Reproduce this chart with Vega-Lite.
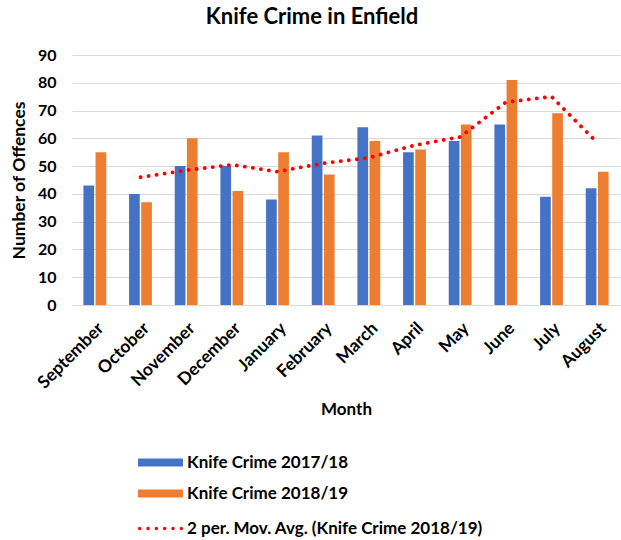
{
  "$schema": "https://vega.github.io/schema/vega-lite/v6.json",
  "width": 548,
  "height": 250,
  "autosize": {"type": "none"},
  "padding": {"left": 72, "top": 55, "right": 1, "bottom": 235},
  "background": "white",
  "title": {"text": "Knife Crime in Enfield", "fontSize": 22, "font": "Lato", "fontWeight": "bold", "color": "#000000", "anchor": "middle", "dx": -34, "offset": 18},
  "config": {"view": {"stroke": null}, "font": "Lato"},
  "datasets": {
    "bars": [
      {"month": "September", "series": "Knife Crime 2017/18", "value": 43},
      {"month": "September", "series": "Knife Crime 2018/19", "value": 55},
      {"month": "October", "series": "Knife Crime 2017/18", "value": 40},
      {"month": "October", "series": "Knife Crime 2018/19", "value": 37},
      {"month": "November", "series": "Knife Crime 2017/18", "value": 50},
      {"month": "November", "series": "Knife Crime 2018/19", "value": 60},
      {"month": "December", "series": "Knife Crime 2017/18", "value": 50},
      {"month": "December", "series": "Knife Crime 2018/19", "value": 41},
      {"month": "January", "series": "Knife Crime 2017/18", "value": 38},
      {"month": "January", "series": "Knife Crime 2018/19", "value": 55},
      {"month": "February", "series": "Knife Crime 2017/18", "value": 61},
      {"month": "February", "series": "Knife Crime 2018/19", "value": 47},
      {"month": "March", "series": "Knife Crime 2017/18", "value": 64},
      {"month": "March", "series": "Knife Crime 2018/19", "value": 59},
      {"month": "April", "series": "Knife Crime 2017/18", "value": 55},
      {"month": "April", "series": "Knife Crime 2018/19", "value": 56},
      {"month": "May", "series": "Knife Crime 2017/18", "value": 59},
      {"month": "May", "series": "Knife Crime 2018/19", "value": 65},
      {"month": "June", "series": "Knife Crime 2017/18", "value": 65},
      {"month": "June", "series": "Knife Crime 2018/19", "value": 81},
      {"month": "July", "series": "Knife Crime 2017/18", "value": 39},
      {"month": "July", "series": "Knife Crime 2018/19", "value": 69},
      {"month": "August", "series": "Knife Crime 2017/18", "value": 42},
      {"month": "August", "series": "Knife Crime 2018/19", "value": 48}
    ],
    "ma": [
      {"month": "October", "series": "2 per. Mov. Avg. (Knife Crime 2018/19)", "value": 46},
      {"month": "November", "series": "2 per. Mov. Avg. (Knife Crime 2018/19)", "value": 48.5},
      {"month": "December", "series": "2 per. Mov. Avg. (Knife Crime 2018/19)", "value": 50.5},
      {"month": "January", "series": "2 per. Mov. Avg. (Knife Crime 2018/19)", "value": 48},
      {"month": "February", "series": "2 per. Mov. Avg. (Knife Crime 2018/19)", "value": 51},
      {"month": "March", "series": "2 per. Mov. Avg. (Knife Crime 2018/19)", "value": 53},
      {"month": "April", "series": "2 per. Mov. Avg. (Knife Crime 2018/19)", "value": 57.5},
      {"month": "May", "series": "2 per. Mov. Avg. (Knife Crime 2018/19)", "value": 60.5},
      {"month": "June", "series": "2 per. Mov. Avg. (Knife Crime 2018/19)", "value": 73},
      {"month": "July", "series": "2 per. Mov. Avg. (Knife Crime 2018/19)", "value": 75},
      {"month": "August", "series": "2 per. Mov. Avg. (Knife Crime 2018/19)", "value": 58.5}
    ]
  },
  "encoding": {
    "x": {
      "field": "month", "type": "nominal",
      "sort": ["September","October","November","December","January","February","March","April","May","June","July","August"],
      "scale": {"paddingInner": 0.5, "paddingOuter": 0.25},
      "axis": {
        "title": "Month", "titleFontSize": 17, "titleFontWeight": "bold", "titleColor": "#000000", "titlePadding": 10,
        "labelAngle": -45, "labelFontSize": 17.5, "labelFontWeight": "bold", "labelColor": "#000000",
        "ticks": false, "domain": true, "domainColor": "#d9d9d9", "grid": false, "labelPadding": 14
      }
    },
    "y": {
      "field": "value", "type": "quantitative",
      "scale": {"domain": [0, 90]},
      "axis": {
        "title": "Number of Offences", "titleFontSize": 17.5, "titleFontWeight": "bold", "titleColor": "#000000", "titlePadding": 9,
        "values": [0,10,20,30,40,50,60,70,80,90], "labelOverlap": false,
        "labelFontSize": 16, "labelFontWeight": "bold", "labelColor": "#000000", "labelPadding": 16,
        "ticks": false, "domain": false, "grid": true, "gridColor": "#d9d9d9", "gridWidth": 1
      }
    }
  },
  "layer": [
    {
      "data": {"name": "bars"},
      "mark": {"type": "bar"},
      "encoding": {
        "xOffset": {"field": "series", "type": "nominal", "scale": {"paddingInner": 0.12}},
        "color": {
          "field": "series", "type": "nominal",
          "scale": {"range": ["#4472C4", "#ED7D31"]},
          "legend": {
            "title": null, "orient": "none", "legendX": 66, "legendY": 385, "direction": "vertical",
            "symbolType": "M-1,-0.18H1V0.18H-1Z", "symbolSize": 2025, "symbolStrokeWidth": 0,
            "labelFontSize": 17, "labelFontWeight": "bold", "labelColor": "#000000", "labelOffset": 4, "rowPadding": -13, "labelLimit": 400
          }
        }
      }
    },
    {
      "data": {"name": "ma"},
      "mark": {"type": "line", "strokeWidth": 3.8, "strokeDash": [0.1, 8], "strokeCap": "round"},
      "encoding": {
        "stroke": {
          "field": "series", "type": "nominal",
          "scale": {"range": ["#FF0000"]},
          "legend": {
            "title": null, "orient": "none", "legendX": 66, "legendY": 451,
            "symbolType": "M-1,0a0.075,0.075 0 1,0 0.15,0a0.075,0.075 0 1,0 -0.15,0M-0.63,0a0.075,0.075 0 1,0 0.15,0a0.075,0.075 0 1,0 -0.15,0M-0.26,0a0.075,0.075 0 1,0 0.15,0a0.075,0.075 0 1,0 -0.15,0M0.11,0a0.075,0.075 0 1,0 0.15,0a0.075,0.075 0 1,0 -0.15,0M0.48,0a0.075,0.075 0 1,0 0.15,0a0.075,0.075 0 1,0 -0.15,0M0.85,0a0.075,0.075 0 1,0 0.15,0a0.075,0.075 0 1,0 -0.15,0Z",
            "symbolSize": 2025, "symbolStrokeWidth": 0, "symbolFillColor": "#FF0000",
            "labelFontSize": 17, "labelFontWeight": "bold", "labelColor": "#000000", "labelOffset": 4, "labelLimit": 400
          }
        }
      }
    }
  ]
}
